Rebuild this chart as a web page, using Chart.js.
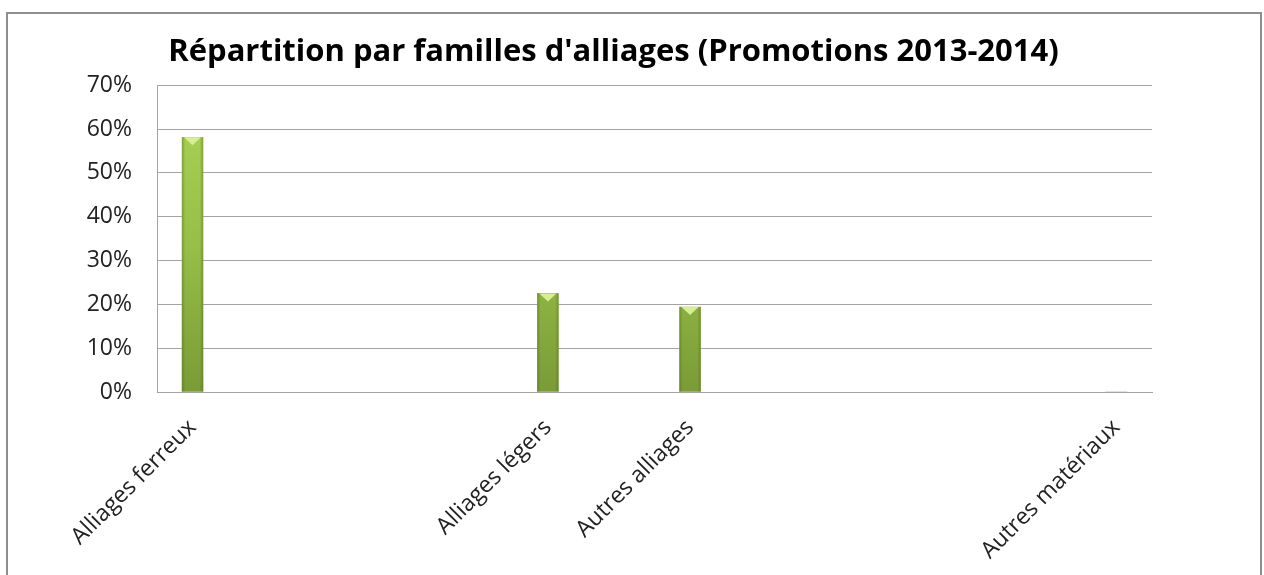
<!DOCTYPE html>
<html lang="fr">
<head>
<meta charset="utf-8">
<title>Répartition par familles d'alliages</title>
<script src="https://cdn.jsdelivr.net/npm/chart.js@4.4.1/dist/chart.umd.min.js"></script>
<style>
    html, body { margin: 0; padding: 0; background: #fff; overflow: hidden; }
    #wrap { position: relative; width: 1264px; height: 575px; }
</style>
</head>
<body>
<div id="wrap"><canvas id="alliages"></canvas></div>
<script>
// catégories (les cases vides gardent l'espacement d'origine)
const categories = ['Alliages ferreux', '', '', '', '', 'Alliages légers', '', 'Autres alliages', '', '', '', '', '', 'Autres matériaux'];
// pourcentages
const parts = [58.1, null, null, null, null, 22.5, null, 19.4, null, null, null, null, null, 0];
const yTicks = [0, 10, 20, 30, 40, 50, 60, 70];
const chartTitle = "Répartition par familles d'alliages (Promotions 2013-2014)";

// cadre gris autour du graphique
const framePlugin = {
    id: 'frame',
    beforeDraw(chart) {
        const ctx = chart.ctx;
        ctx.save();
        ctx.fillStyle = '#fff';
        ctx.fillRect(0, 0, chart.width, chart.height);
        ctx.strokeStyle = '#8e8e8e';
        ctx.lineWidth = 2;
        ctx.strokeRect(7, 13, 1254, 600);
        ctx.restore();
    }
};

// relief des barres : bords un peu plus sombres + biseau clair en haut
const bevelPlugin = {
    id: 'bevel',
    afterDatasetsDraw(chart) {
        const ctx = chart.ctx;
        chart.getDatasetMeta(0).data.forEach(bar => {
            if (bar.skip || bar.base - bar.y < 2) return;
            const half = bar.width / 2;
            const left = bar.x - half, right = bar.x + half;
            const top = bar.y, bottom = bar.base;
            ctx.save();
            const side = ctx.createLinearGradient(left, 0, right, 0);
            side.addColorStop(0, 'rgba(80,105,30,0.45)');
            side.addColorStop(0.15, 'rgba(80,105,30,0)');
            side.addColorStop(0.85, 'rgba(80,105,30,0)');
            side.addColorStop(1, 'rgba(80,105,30,0.45)');
            ctx.fillStyle = side;
            ctx.fillRect(left, top, bar.width, bottom - top);
            // biseau
            ctx.fillStyle = '#d6ef91';
            ctx.beginPath();
            ctx.moveTo(left + 2, top);
            ctx.lineTo(right - 2, top);
            ctx.lineTo(bar.x, top + 8);
            ctx.closePath();
            ctx.fill();
            ctx.restore();
        });
    }
};

function barFill(context) {
    const chart = context.chart;
    const area = chart.chartArea;
    if (!area) return '#94ba48';
    const g = chart.ctx.createLinearGradient(0, area.top, 0, area.bottom);
    g.addColorStop(0, '#acd456');
    g.addColorStop(0.5, '#98c049');
    g.addColorStop(1, '#7a9b36');
    return g;
}

const ctx = document.getElementById('alliages').getContext('2d');
new Chart(ctx, {
    type: 'bar',
    data: {
        labels: categories,
        datasets: [{
            data: parts,
            backgroundColor: barFill,
            borderWidth: 0,
            barThickness: 21
        }]
    },
    options: {
        responsive: true,
        maintainAspectRatio: false,
        animation: false,
        layout: {
            padding: { left: 75, right: 112, top: 0, bottom: 0 }
        },
        plugins: {
            legend: { display: false },
            tooltip: { enabled: false },
            title: {
                display: true,
                text: chartTitle,
                color: '#000',
                font: { family: 'Open Sans', size: 31, weight: 'bold' },
                padding: { top: 34, bottom: 14 }
            }
        },
        scales: {
            x: {
                grid: { display: false },
                border: { display: true, color: '#a3a3a3', width: 1 },
                ticks: {
                    autoSkip: false,
                    minRotation: 45,
                    maxRotation: 45,
                    padding: 14,
                    color: '#222',
                    font: { family: 'Open Sans', size: 23 }
                },
                afterFit(scale) { scale.height = 183; }
            },
            y: {
                min: 0,
                max: 70,
                afterBuildTicks(scale) {
                    scale.ticks = yTicks.map(v => ({ value: v }));
                },
                grid: { color: '#a3a3a3', lineWidth: 1, drawTicks: false },
                border: { display: true, color: '#a3a3a3', width: 1 },
                ticks: {
                    padding: 25,
                    color: '#222',
                    font: { family: 'Open Sans', size: 23 },
                    callback: v => v + '%'
                },
                afterFit(scale) { scale.width = 82; }
            }
        }
    },
    plugins: [framePlugin, bevelPlugin]
});
</script>
</body>
</html>
